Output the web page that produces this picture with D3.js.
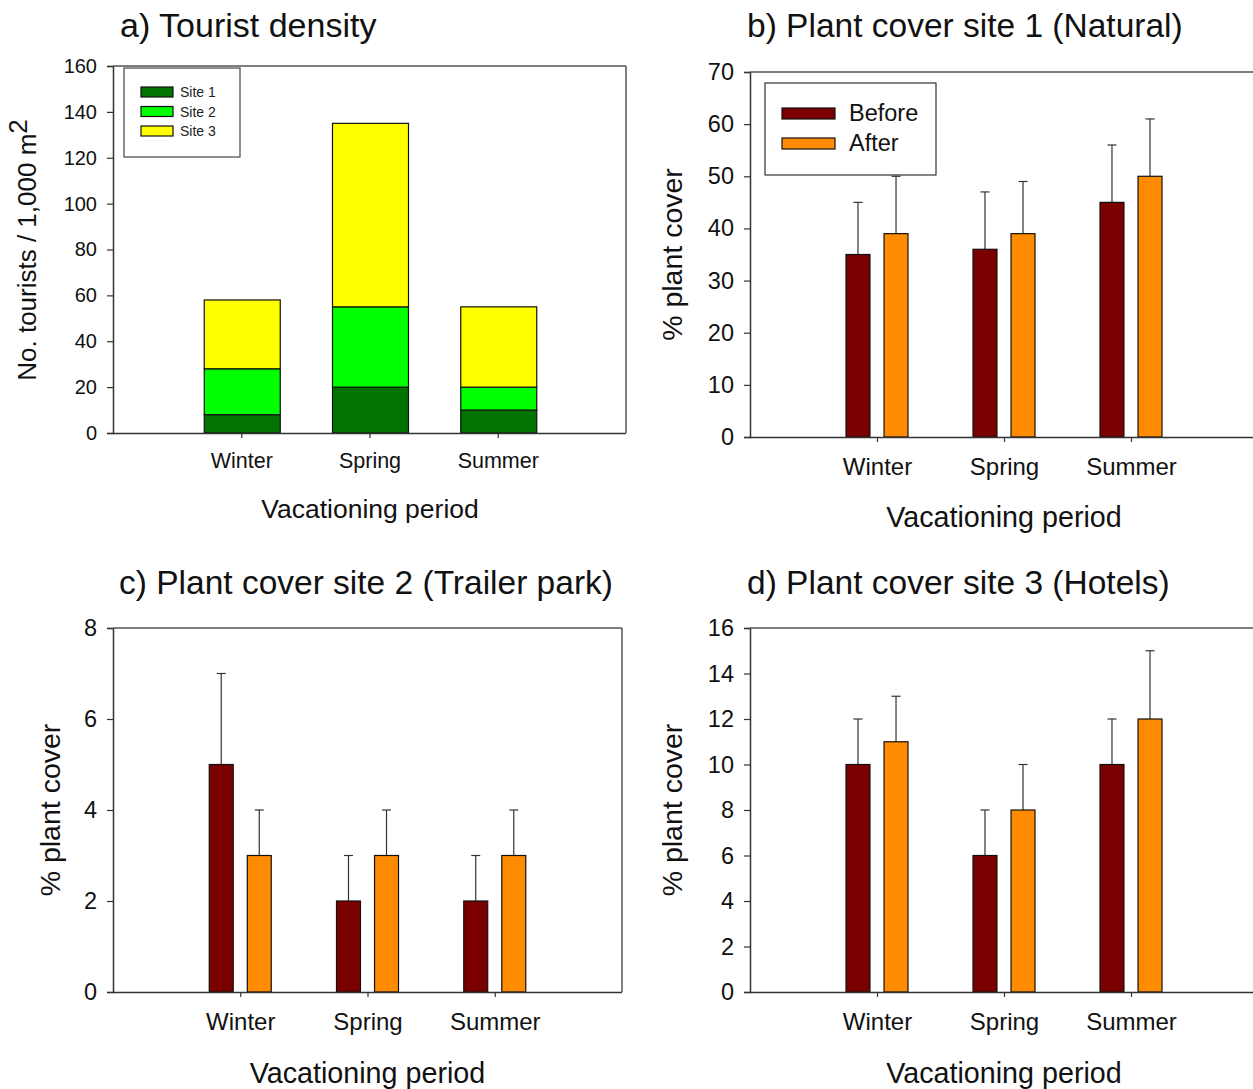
<!DOCTYPE html>
<html><head><meta charset="utf-8">
<script src="https://cdn.jsdelivr.net/npm/d3@7"></script>
<style>
html,body{margin:0;padding:0;background:#fff;}
svg{display:block;font-family:"Liberation Sans",Arial,sans-serif;}
</style></head>
<body>
<svg id="chart" width="1253" height="1089"></svg>
<script>
// ---------- DATA ----------
const periods = ["Winter", "Spring", "Summer"];
const sites = ["Site 1", "Site 2", "Site 3"];
const touristSite1 = [8, 20, 10];
const touristSite2 = [20, 35, 10];
const touristSite3 = [30, 80, 35];
const treatments = ["Before", "After"];
const site1Before = [35, 36, 45];
const site1After = [39, 39, 50];
const site1BeforeErr = [10, 11, 11];
const site1AfterErr = [11, 10, 11];
const site2Before = [5, 2, 2];
const site2After = [3, 3, 3];
const site2BeforeErr = [2, 1, 1];
const site2AfterErr = [1, 1, 1];
const site3Before = [10, 6, 10];
const site3After = [11, 8, 12];
const site3BeforeErr = [2, 2, 2];
const site3AfterErr = [2, 2, 3];
const ticksA = [0, 20, 40, 60, 80, 100, 120, 140, 160];
const ticksB = [0, 10, 20, 30, 40, 50, 60, 70];
const ticksC = [0, 2, 4, 6, 8];
const ticksD = [0, 2, 4, 6, 8, 10, 12, 14, 16];

const siteColors = ["#007300", "#00ff00", "#ffff00"];
const treatColors = ["#7a0000", "#ff8c00"];
const AXIS = "#333";

const svg = d3.select("#chart");

function axes(g, x, y, ticks, f, frameRight) {
  const [l, r] = x.range();
  const [b, t] = y.range();
  const ya = g.append("g").attr("transform", `translate(${l},0)`)
    .call(d3.axisLeft(y).tickValues(ticks).tickSize(6).tickPadding(10).tickFormat(d3.format("d")));
  ya.select(".domain").attr("stroke", AXIS).attr("stroke-width", 1.5);
  ya.selectAll(".tick line").attr("stroke", AXIS).attr("stroke-width", 1.2);
  ya.selectAll(".tick text").attr("font-size", f.yTick).attr("fill", "#111")
    .attr("font-family", "Liberation Sans, Arial, sans-serif");
  const xa = g.append("g").attr("transform", `translate(0,${b})`)
    .call(d3.axisBottom(x).tickSize(5).tickPadding(f.xPad));
  xa.select(".domain").attr("stroke", AXIS).attr("stroke-width", 1.5).attr("d", `M${l},0.5H${r}`);
  xa.selectAll(".tick line").attr("stroke", AXIS).attr("stroke-width", 1.2);
  xa.selectAll(".tick text").attr("font-size", f.xTick).attr("fill", "#111")
    .attr("font-family", "Liberation Sans, Arial, sans-serif");
  g.append("line").attr("x1", l).attr("x2", r).attr("y1", t).attr("y2", t)
    .attr("stroke", "#555").attr("stroke-width", 1.5);
  if (frameRight) g.append("line").attr("x1", r).attr("x2", r).attr("y1", t).attr("y2", b)
    .attr("stroke", "#555").attr("stroke-width", 1.5);
}

function labels(g, f, title, tx, ty, ylab, ylx, yly, xlab, xlx, xly) {
  g.append("text").attr("x", tx).attr("y", ty).attr("font-size", f.title).attr("fill", "#111").text(title);
  const yl = g.append("text").attr("transform", `translate(${ylx},${yly}) rotate(-90)`)
    .attr("text-anchor", "middle").attr("font-size", f.yLab).attr("fill", "#111");
  if (typeof ylab === "string") yl.text(ylab);
  else { yl.append("tspan").text(ylab[0]); yl.append("tspan").attr("dy", -9).text(ylab[1]); }
  g.append("text").attr("x", xlx).attr("y", xly).attr("text-anchor", "middle")
    .attr("font-size", f.xLab).attr("fill", "#111").text(xlab);
}

const fontA = {title: 34, yTick: 20, xTick: 21.5, xPad: 15, yLab: 26, xLab: 26.5};
const fontB = {title: 33.5, yTick: 23.5, xTick: 24, xPad: 16, yLab: 28.5, xLab: 28.7};

// ---------- Panel a ----------
{
  const g = svg.append("g");
  const x = d3.scalePoint().domain(periods).range([113, 626]).padding(1);
  const y = d3.scaleLinear().domain([0, 160]).range([433, 66]);
  const rows = periods.map((p, i) => ({period: p, "Site 1": touristSite1[i], "Site 2": touristSite2[i], "Site 3": touristSite3[i]}));
  const stack = d3.stack().keys(sites)(rows);
  const bw = 76;
  stack.forEach((layer, k) => {
    g.selectAll(null).data(layer).enter().append("rect")
      .attr("x", d => x(d.data.period) - bw / 2 + 1)
      .attr("width", bw)
      .attr("y", d => y(d[1]))
      .attr("height", d => y(d[0]) - y(d[1]))
      .attr("fill", siteColors[k]).attr("stroke", "#111").attr("stroke-width", 1.2);
  });
  axes(g, x, y, ticksA, fontA, true);
  labels(g, fontA, "a) Tourist density", 120, 37, ["No. tourists / 1,000 m", "2"], 36, 250,
    "Vacationing period", 370, 518);
  const lg = g.append("g");
  lg.append("rect").attr("x", 124).attr("y", 68).attr("width", 116).attr("height", 89)
    .attr("fill", "#fff").attr("stroke", "#444").attr("stroke-width", 1.2);
  sites.forEach((s, i) => {
    lg.append("rect").attr("x", 141).attr("y", 87 + i * 19.5).attr("width", 32).attr("height", 10)
      .attr("fill", siteColors[i]).attr("stroke", "#111").attr("stroke-width", 1.2);
    lg.append("text").attr("x", 180).attr("y", 97 + i * 19.5).attr("font-size", 14)
      .attr("fill", "#222").text(s);
  });
}

// ---------- grouped panels ----------
function grouped(opts) {
  const g = svg.append("g");
  const x = d3.scalePoint().domain(periods).range([opts.left, opts.right]).padding(1);
  const y = d3.scaleLinear().domain([0, opts.max]).range([opts.bottom, opts.top]);
  const x1 = d3.scaleBand().domain(treatments).range([-31, 31]).paddingInner(0.37);
  const series = [opts.before, opts.after];
  const errs = [opts.beforeErr, opts.afterErr];
  treatments.forEach((t, k) => {
    periods.forEach((p, i) => {
      const cx = x(p) + x1(t) + x1.bandwidth() / 2;
      const top = series[k][i] + errs[k][i];
      g.append("line").attr("x1", cx).attr("x2", cx).attr("y1", y(series[k][i])).attr("y2", y(top))
        .attr("stroke", "#333").attr("stroke-width", 1.2);
      g.append("line").attr("x1", cx - 4.5).attr("x2", cx + 4.5).attr("y1", y(top)).attr("y2", y(top))
        .attr("stroke", "#333").attr("stroke-width", 1.2);
    });
    g.selectAll(null).data(periods).enter().append("rect")
      .attr("x", (p) => x(p) + x1(t))
      .attr("width", x1.bandwidth())
      .attr("y", (p, i) => y(series[k][i]))
      .attr("height", (p, i) => y(0) - y(series[k][i]))
      .attr("fill", treatColors[k]).attr("stroke", "#111").attr("stroke-width", 1.2);
  });
  axes(g, x, y, opts.ticks, fontB, opts.frameRight);
  labels(g, fontB, opts.title, opts.tx, opts.ty, "% plant cover", opts.ylx, (opts.top + opts.bottom) / 2,
    "Vacationing period", (opts.left + opts.right) / 2, opts.xly);
  return g;
}

const gb = grouped({left: 750, right: 1258, top: 72, bottom: 437, max: 70, ticks: ticksB,
  before: site1Before, after: site1After, beforeErr: site1BeforeErr, afterErr: site1AfterErr,
  title: "b) Plant cover site 1 (Natural)", tx: 747, ty: 37, ylx: 682, xly: 527, frameRight: false});
{
  const lg = gb.append("g");
  lg.append("rect").attr("x", 765).attr("y", 83).attr("width", 171).attr("height", 92)
    .attr("fill", "#fff").attr("stroke", "#333").attr("stroke-width", 1.2);
  treatments.forEach((t, i) => {
    lg.append("rect").attr("x", 782).attr("y", 108 + i * 30).attr("width", 53).attr("height", 11)
      .attr("fill", treatColors[i]).attr("stroke", "#111").attr("stroke-width", 1.2);
    lg.append("text").attr("x", 849).attr("y", 121 + i * 30).attr("font-size", 23.5)
      .attr("fill", "#111").text(t);
  });
}

grouped({left: 113, right: 622, top: 628, bottom: 992, max: 8, ticks: ticksC,
  before: site2Before, after: site2After, beforeErr: site2BeforeErr, afterErr: site2AfterErr,
  title: "c) Plant cover site 2 (Trailer park)", tx: 119, ty: 594, ylx: 60, xly: 1083, frameRight: true});

grouped({left: 750, right: 1258, top: 628, bottom: 992, max: 16, ticks: ticksD,
  before: site3Before, after: site3After, beforeErr: site3BeforeErr, afterErr: site3AfterErr,
  title: "d) Plant cover site 3 (Hotels)", tx: 747, ty: 594, ylx: 682, xly: 1083, frameRight: false});
</script>
</body></html>
